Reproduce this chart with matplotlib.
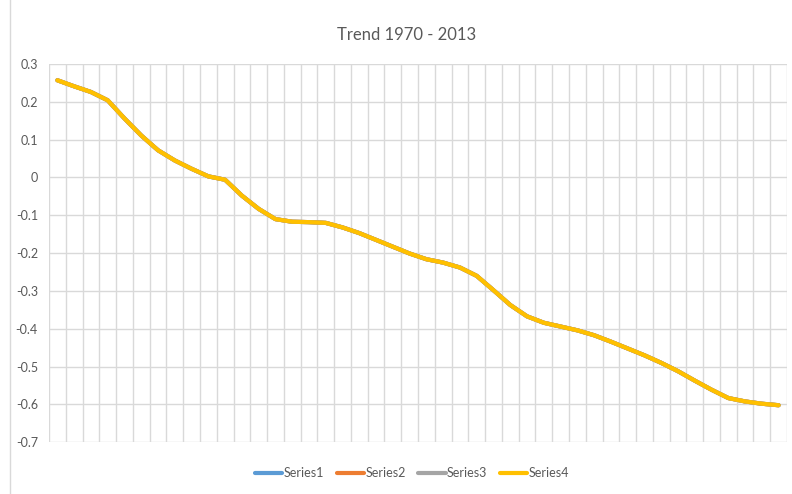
"""Trend 1970 - 2013 line chart (Excel style)."""

import numpy as np
import matplotlib.pyplot as plt
from matplotlib.lines import Line2D

years = list(range(1970, 2014))
trend = [
    0.257, 0.241, 0.226, 0.204, 0.156, 0.111, 0.072, 0.045, 0.023, 0.003,
    -0.006, -0.048, -0.083, -0.110, -0.117, -0.118, -0.120, -0.132, -0.147, -0.165,
    -0.183, -0.201, -0.216, -0.225, -0.238, -0.260, -0.298, -0.337, -0.367, -0.384,
    -0.394, -0.404, -0.417, -0.434, -0.452, -0.470, -0.490, -0.512, -0.537, -0.561,
    -0.583, -0.592, -0.598, -0.602,
]
series_names = ["Series1", "Series2", "Series3", "Series4"]
series_values = [trend, trend, trend, trend]
colors = ["#5B9BD5", "#ED7D31", "#A5A5A5", "#FFC000"]
yticks = [0.3, 0.2, 0.1, 0, -0.1, -0.2, -0.3, -0.4, -0.5, -0.6, -0.7]

plt.rcParams["font.family"] = ["Lato", "DejaVu Sans"]

fig = plt.figure(figsize=(7.92, 4.94), dpi=100)
ax = fig.add_axes([49 / 792, 1 - 442.3 / 494, 738 / 792, (442.3 - 64) / 494])

x = np.arange(len(years))
for name, vals, c in zip(series_names, series_values, colors):
    ax.plot(x, vals, color=c, linewidth=3.0, label=name,
            solid_capstyle="round", solid_joinstyle="round")

ax.set_xlim(-0.5, len(years) - 0.5)
ax.set_ylim(-0.7, 0.3)
ax.set_xticks(np.arange(len(years) + 1) - 0.5)
ax.set_xticklabels([])
ax.set_yticks(yticks)
ax.set_yticklabels([f"{v:g}" for v in yticks])
ax.tick_params(axis="both", length=0, labelsize=9, labelcolor="#595959")
ax.tick_params(axis="y", pad=8)
ax.grid(True, color="#D9D9D9", linewidth=1.0)
ax.set_axisbelow(True)
for s in ax.spines.values():
    s.set_visible(False)

fig.text(407 / 792, 1 - 35 / 494, "Trend 1970 - 2013", ha="center", va="center",
         fontsize=12, color="#595959")

leg = fig.legend(loc="center", bbox_to_anchor=(412 / 792, 1 - 473 / 494), ncol=4,
                 frameon=False, fontsize=9, handlelength=2.2, handletextpad=0.1,
                 columnspacing=1.0)
for t in leg.get_texts():
    t.set_color("#595959")

# chart frame edge on the left
fig.add_artist(Line2D([10 / 792, 10 / 792], [0, 1], color="#D9D9D9", linewidth=1.0,
                      transform=fig.transFigure))

plt.savefig("out.png", dpi=100)
plt.close(fig)
